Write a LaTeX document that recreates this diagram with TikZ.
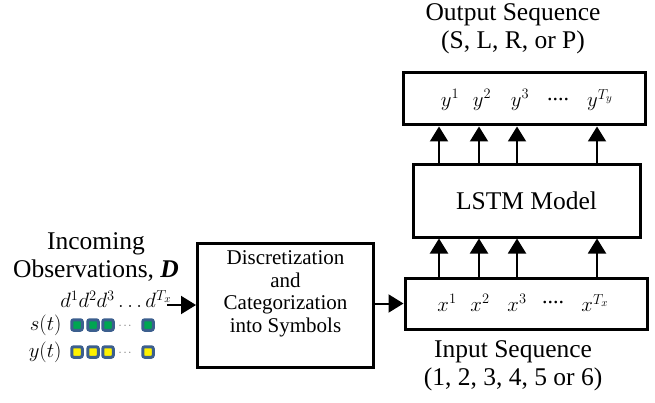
\documentclass[tikz,border=0pt]{standalone}
\usepackage{fontspec}
\setmainfont{Liberation Serif}
\usepackage{amsmath}
\usetikzlibrary{arrows.meta}
\definecolor{sqblue}{HTML}{3C5F8E}
\definecolor{sqgreen}{HTML}{00A651}
\definecolor{sqyellow}{HTML}{FFF200}

\begin{document}
\begin{tikzpicture}[x=1pt,y=-1pt,
		blk/.style={draw, line width=3pt, inner sep=0pt},
		arr/.style={line width=2pt, -{Triangle[length=15pt,width=18pt]}},
		ttl/.style={font=\fontsize{25.5}{28}\selectfont, align=center},
		lbl/.style={font=\fontsize{22}{24}\selectfont},
		sq/.style={draw=sqblue, line width=3pt, rounded corners=2pt, minimum size=10.5pt, inner sep=0pt}]
		\useasboundingbox (0,0) rectangle (655,403);
\par
\node[ttl] (outtitle) at (513,29) {Output Sequence\\(S, L, R, or P)};
		\node[blk, minimum width=242pt, minimum height=52pt] (outbox) at (524,99) {};
		\node[blk, minimum width=227pt, minimum height=72pt, ttl] (lstm) at (526.5,201) {LSTM Model};
		\node[blk, minimum width=242pt, minimum height=51pt] (inbox) at (526,303.5) {};
		\node[ttl] (intitle) at (513,366) {Input Sequence\\(1, 2, 3, 4, 5 or 6)};
\par
\node[lbl] (y1) at (450,100) {$y^1$};
		\node[lbl] (y2) at (482,100) {$y^2$};
		\node[lbl] (y3) at (520,100) {$y^3$};
		\node[lbl] (ydots) at (558,100) {....};
		\node[lbl] (yT) at (600,100) {$y^{T_y}$};
		\node[lbl] (x1) at (447,303) {$x^1$};
		\node[lbl] (x2) at (480,303) {$x^2$};
		\node[lbl] (x3) at (517,303) {$x^3$};
		\node[lbl] (xdots) at (553,303) {....};
		\node[lbl] (xT) at (595,303) {$x^{T_x}$};
\par
\foreach \c/\x in {1/439, 2/479, 3/517, 4/597} {
			\coordinate (col\c) at (\x,0);
			\draw[arr] (col\c |- inbox.north) -- (col\c |- lstm.south);
			\draw[arr] (col\c |- lstm.north) -- (col\c |- outbox.south);
		}
\par
\node[blk, minimum width=176pt, minimum height=124pt, align=center, font=\fontsize{21}{22.5}\selectfont] (disc) at (285.5,305) {Discretization\\and\\Categorization\\into Symbols\\[4pt]};
		\draw[arr] (disc.east |- inbox.west) -- (inbox.west);
\par
\node[ttl] (obs) at (96,257) {Incoming\\Observations, \textbf{\textit{D}}};
		\node[lbl] (dseq) at (116,299) {$d^1d^2d^3\dots d^{T_x}$};
		\coordinate (obsend) at (167,305);
		\draw[arr] (obsend) -- (obsend -| disc.west);
\par
\node[lbl, anchor=east] (st) at (65,325) {$s(t)$};
		\node[lbl, anchor=east] (yt) at (65,352) {$y(t)$};
		\foreach \x in {77,93,108,148} {
			\node[sq, fill=sqgreen] (s\x) at (\x,325) {};
			\node[sq, fill=sqyellow] (q\x) at (\x,352) {};
		}
		\node[font=\fontsize{11}{11}\selectfont, text=black!70] (sdots) at (126,326) {$\cdots$};
		\node[font=\fontsize{11}{11}\selectfont, text=black!70] (qdots) at (126,353) {$\cdots$};
	\end{tikzpicture}
\end{document}
